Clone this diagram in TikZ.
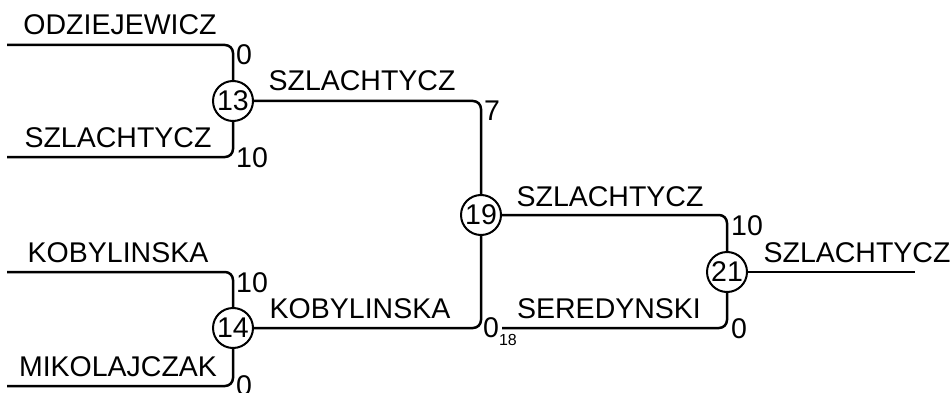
\documentclass[tikz,border=0pt]{standalone}
\usepackage{fontspec}
\setmainfont{Liberation Sans}

\tikzset{
	match/.style={draw, circle, line width=2pt, minimum size=40pt, inner sep=0pt, font=\fontsize{28.5}{30}\selectfont},
	player/.style={anchor=base, inner sep=0pt, font=\fontsize{28.5}{30}\selectfont},
	score/.style={anchor=base west, inner sep=0pt, font=\fontsize{28.5}{30}\selectfont},
	bracket/.style={line width=2.5pt, rounded corners=8pt},
}

\begin{document}
\begin{tikzpicture}[x=1pt,y=-1pt]
	\useasboundingbox (0,0) rectangle (952,393);

	%the matches
	\node[match] (m13) at (233,101) {13};
	\node[match] (m14) at (233,328) {14};
	\node[match] (m19) at (481,215) {19};
	\node[match] (m21) at (727,272) {21};

	%free ends of the lines
	\coordinate (odz) at (7,45);
	\coordinate (szl) at (7,157);
	\coordinate (kob) at (7,272);
	\coordinate (mik) at (7,386);
	\coordinate (ser) at (502,328);
	\coordinate (win) at (915,272);

	%draw the bracket
	\draw[bracket] (odz) -| (m13);
	\draw[bracket] (szl) -| (m13);
	\draw[bracket] (kob) -| (m14);
	\draw[bracket] (mik) -| (m14);
	\draw[bracket] (m13) -| (m19);
	\draw[bracket] (m14) -| (m19);
	\draw[bracket] (m19) -| (m21);
	\draw[bracket] (ser) -| (m21);
	\draw[bracket] (m21) -- (win);

	%names above the lines
	\node[player] (nodz) at (120,35) {ODZIEJEWICZ};
	\node[player] (nszl) at (118,147) {SZLACHTYCZ};
	\node[player] (nkob) at (118,262) {KOBYLINSKA};
	\node[player] (nmik) at (118,376) {MIKOLAJCZAK};
	\node[player] (w13) at (362,91) {SZLACHTYCZ};
	\node[player] (w14) at (360,318) {KOBYLINSKA};
	\node[player] (w19) at (610,206) {SZLACHTYCZ};
	\node[player] (nser) at (609,318) {SEREDYNSKI};
	\node[player] (w21) at (857,262) {SZLACHTYCZ};

	%scores
	\node[score] (s13a) at (236,65) {0};
	\node[score] (s13b) at (236,167) {10};
	\node[score] (s14a) at (236,292) {10};
	\node[score] (s14b) at (236,395) {0};
	\node[score] (s19a) at (484,121) {7};
	\node[score] (s19b) at (483,337) {0\raisebox{-8pt}{\fontsize{16}{17}\selectfont 18}};
	\node[score] (s21a) at (731,235) {10};
	\node[score] (s21b) at (731,338) {0};

\end{tikzpicture}
\end{document}
